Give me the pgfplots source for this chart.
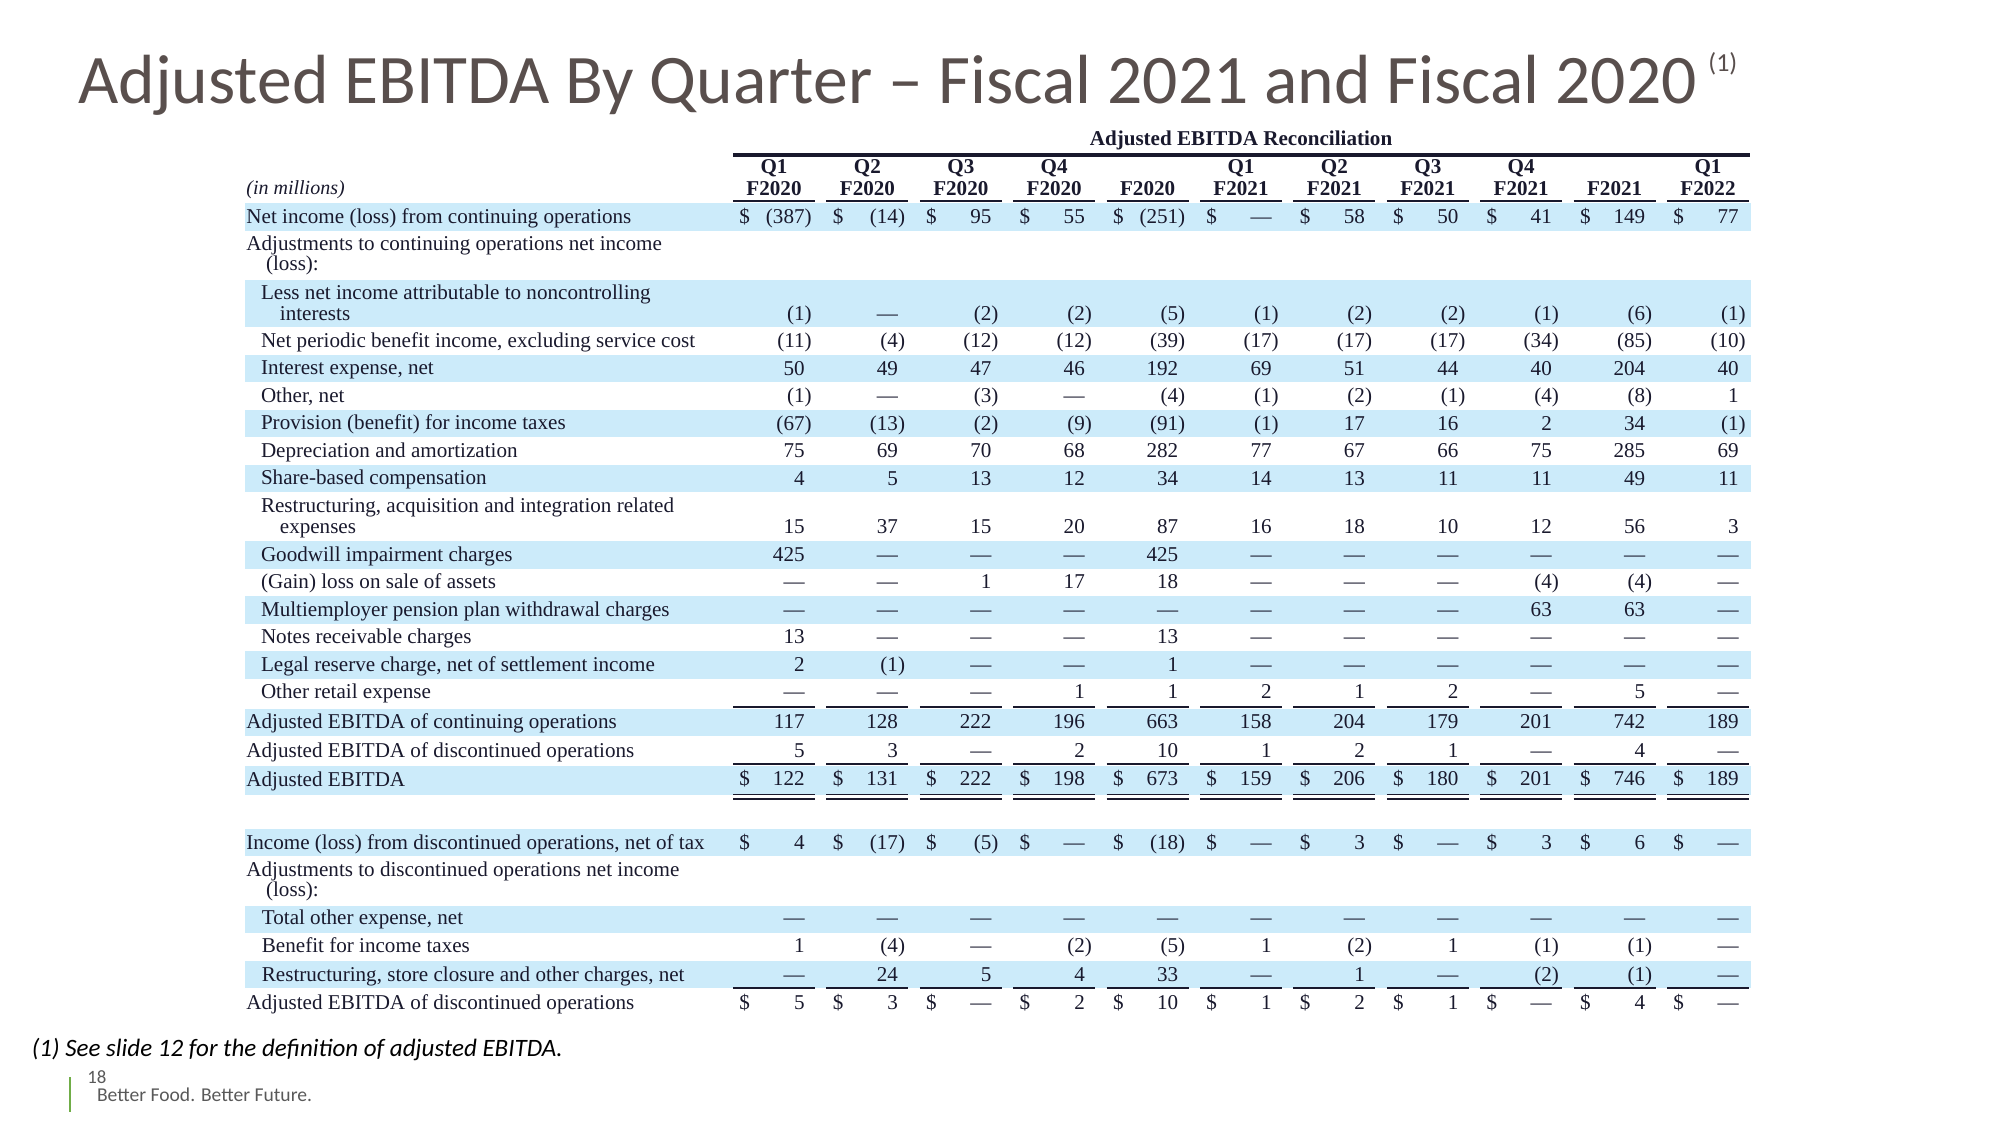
\documentclass[border=0pt]{standalone}
\usepackage{pgfplots}
\pgfplotsset{compat=1.18}
\usepackage{pgfplotstable}
\usepackage{fontspec}
\setmainfont{Liberation Serif}
\newfontfamily\calibri{Carlito}
\definecolor{band}{RGB}{204,235,250}
\definecolor{titlec}{RGB}{89,79,77}
\definecolor{tabtext}{RGB}{25,25,45}
\definecolor{footgray}{RGB}{89,89,89}
\definecolor{accgreen}{RGB}{112,173,71}
\newcommand\tabfont{\fontsize{10.55}{12}\selectfont}
\newcommand\acct[1]{\ifnum#1<0 (\number-#1\rlap{)}\else\ifnum#1=0 \textemdash\else #1\fi\fi}

% rows: baseline y (px from top), then the 11 columns
% Q1F20 Q2F20 Q3F20 Q4F20 F2020 Q1F21 Q2F21 Q3F21 Q4F21 F2021 Q1F22
\pgfplotstableread{
y c0 c1 c2 c3 c4 c5 c6 c7 c8 c9 c10
223.5 -387 -14 95 55 -251 0 58 50 41 149 77
320.5 -1 0 -2 -2 -5 -1 -2 -2 -1 -6 -1
347.5 -11 -4 -12 -12 -39 -17 -17 -17 -34 -85 -10
375 50 49 47 46 192 69 51 44 40 204 40
402.5 -1 0 -3 0 -4 -1 -2 -1 -4 -8 1
430 -67 -13 -2 -9 -91 -1 17 16 2 34 -1
457.5 75 69 70 68 282 77 67 66 75 285 69
485 4 5 13 12 34 14 13 11 11 49 11
533.5 15 37 15 20 87 16 18 10 12 56 3
561.5 425 0 0 0 425 0 0 0 0 0 0
588.5 0 0 1 17 18 0 0 0 -4 -4 0
616.5 0 0 0 0 0 0 0 0 63 63 0
643.5 13 0 0 0 13 0 0 0 0 0 0
671.5 2 -1 0 0 1 0 0 0 0 0 0
698.5 0 0 0 1 1 2 1 2 0 5 0
728.5 117 128 222 196 663 158 204 179 201 742 189
757.5 5 3 0 2 10 1 2 1 0 4 0
785.5 122 131 222 198 673 159 206 180 201 746 189
849.5 4 -17 -5 0 -18 0 3 0 3 6 0
924.5 0 0 0 0 0 0 0 0 0 0 0
952.5 1 -4 0 -2 -5 1 -2 1 -1 -1 0
981 0 24 5 4 33 0 1 0 -2 -1 0
1009 5 3 0 2 10 1 2 1 0 4 0
}\vals

\begin{document}
\begin{tikzpicture}
\useasboundingbox (0,0) rectangle (1000pt,562.5pt);
\begin{scope}[x=0.5pt,y=-0.5pt,yshift=562.5pt]
  % blue bands
  \foreach \a/\b in {203.25/230.75, 280/327.25, 354.75/382.25, 409.75/437.25, 464.75/492.25, 541.25/568.75, 596.5/624, 651.25/678.75, 708.5/736, 765.5/795, 829/856, 906/932.75, 960.5/987.5}
    \fill[band] (245,\a) rectangle (1751,\b);
\end{scope}

\begin{axis}[at={(0,0)}, anchor=south west, scale only axis, width=1000pt, height=562.5pt,
  xmin=0, xmax=2000, ymin=0, ymax=1125, y dir=reverse, hide axis, clip=false]
\pgfplotsinvokeforeach{0,...,10}{
  \addplot[draw=none, mark=none, nodes near coords={\acct{\pgfplotspointmeta}},
    point meta=explicit symbolic,
    every node near coord/.append style={anchor=base east, inner sep=0pt, font=\tabfont, text=tabtext}]
    table[x expr={805.0+93.4*#1}, y=y, meta=c#1] {\vals};
}
\end{axis}

\begin{scope}[x=0.5pt,y=-0.5pt,yshift=562.5pt]
  % title
  \node[anchor=base west, inner sep=0pt, text=titlec, font=\calibri\fontsize{34.8}{40}\selectfont] at (78,104) {Adjusted EBITDA By Quarter – Fiscal 2021 and Fiscal 2020};
  \node[anchor=base west, inner sep=0pt, text=titlec, font=\calibri\fontsize{13}{15}\selectfont] at (1708,72) {(1)};
  % table header
  \node[anchor=base, inner sep=0pt, text=tabtext, font=\tabfont\bfseries] at (1241,146) {Adjusted EBITDA Reconciliation};
  \draw[line width=2pt, tabtext] (733,155) -- (1750,155);
  \node[anchor=base west, inner sep=0pt, text=tabtext, font=\fontsize{10}{12}\selectfont\itshape] at (246,195) {(in millions)};
  \foreach \i/\q/\f in {0/Q1/F2020, 1/Q2/F2020, 2/Q3/F2020, 3/Q4/F2020, 4//F2020, 5/Q1/F2021, 6/Q2/F2021, 7/Q3/F2021, 8/Q4/F2021, 9//F2021, 10/Q1/F2022}{
    \pgfmathsetmacro\cx{774+93.4*\i}
    \node[anchor=base, inner sep=0pt, text=tabtext, font=\tabfont\bfseries] at (\cx,174) {\q};
    \node[anchor=base, inner sep=0pt, text=tabtext, font=\tabfont\bfseries] at (\cx,195.5) {\f};
    \pgfmathsetmacro\xa{733+93.4*\i}
    \pgfmathsetmacro\xb{815+93.4*\i}
    \pgfmathsetmacro\xd{739+93.4*\i}
    \draw[line width=0.75pt, tabtext] (\xa,201) -- (\xb,201);
    \draw[line width=0.75pt, tabtext] (\xa,707) -- (\xb,707);
    \draw[line width=0.75pt, tabtext] (\xa,764) -- (\xb,764);
    \draw[line width=0.65pt, tabtext] (\xa,794.3) -- (\xb,794.3);
    \draw[line width=0.65pt, tabtext] (\xa,799) -- (\xb,799);
    \draw[line width=0.75pt, tabtext] (\xa,988) -- (\xb,988);
    \foreach \yy in {223.5,785.5,849.5,1009}
      \node[anchor=base west, inner sep=0pt, text=tabtext, font=\tabfont] at (\xd,\yy) {\$};
  }
  % row labels
  \begin{scope}[every node/.style={anchor=base west, inner sep=0pt, text=tabtext, font=\tabfont}]
    \node at (246,223.5) {Net income (loss) from continuing operations};
    \node at (246,250.5) {Adjustments to continuing operations net income};
    \node at (265.7,270.5) {(loss):};
    \node at (260.6,299.5) {Less net income attributable to noncontrolling};
    \node at (279.5,320.5) {interests};
    \node at (260.6,347.5) {Net periodic benefit income, excluding service cost};
    \node at (260.6,375) {Interest expense, net};
    \node at (260.6,402.5) {Other, net};
    \node at (260.6,430) {Provision (benefit) for income taxes};
    \node at (260.6,457.5) {Depreciation and amortization};
    \node at (260.6,485) {Share-based compensation};
    \node at (260.6,512.5) {Restructuring, acquisition and integration related};
    \node at (279.5,533.5) {expenses};
    \node at (260.6,561.5) {Goodwill impairment charges};
    \node at (260.6,588.5) {(Gain) loss on sale of assets};
    \node at (260.6,616.5) {Multiemployer pension plan withdrawal charges};
    \node at (260.6,643.5) {Notes receivable charges};
    \node at (260.6,671.5) {Legal reserve charge, net of settlement income};
    \node at (260.6,698.5) {Other retail expense};
    \node at (246,728.5) {Adjusted EBITDA of continuing operations};
    \node at (246,757.5) {Adjusted EBITDA of discontinued operations};
    \node at (246,786.5) {Adjusted EBITDA};
    \node at (246,849.5) {Income (loss) from discontinued operations, net of tax};
    \node at (246,876.5) {Adjustments to discontinued operations net income};
    \node at (265.7,896.5) {(loss):};
    \node at (261.5,924.5) {Total other expense, net};
    \node at (261.5,952.5) {Benefit for income taxes};
    \node at (261.5,981) {Restructuring, store closure and other charges, net};
    \node at (246,1009) {Adjusted EBITDA of discontinued operations};
  \end{scope}
  % footer
  \node[anchor=base west, inner sep=0pt, text=black, font=\calibri\itshape\fontsize{12.5}{14}\selectfont] at (31.5,1056) {(1) See slide 12 for the definition of adjusted EBITDA.};
  \draw[line width=1pt, accgreen] (70,1077) -- (70,1112);
  \node[anchor=base west, inner sep=0pt, text=footgray, font=\calibri\fontsize{9.4}{10}\selectfont] at (87,1083) {18};
  \node[anchor=base west, inner sep=0pt, text=footgray, font=\calibri\fontsize{9.8}{10}\selectfont] at (96.6,1101.7) {Better Food. Better Future.};
\end{scope}
\end{tikzpicture}
\end{document}
